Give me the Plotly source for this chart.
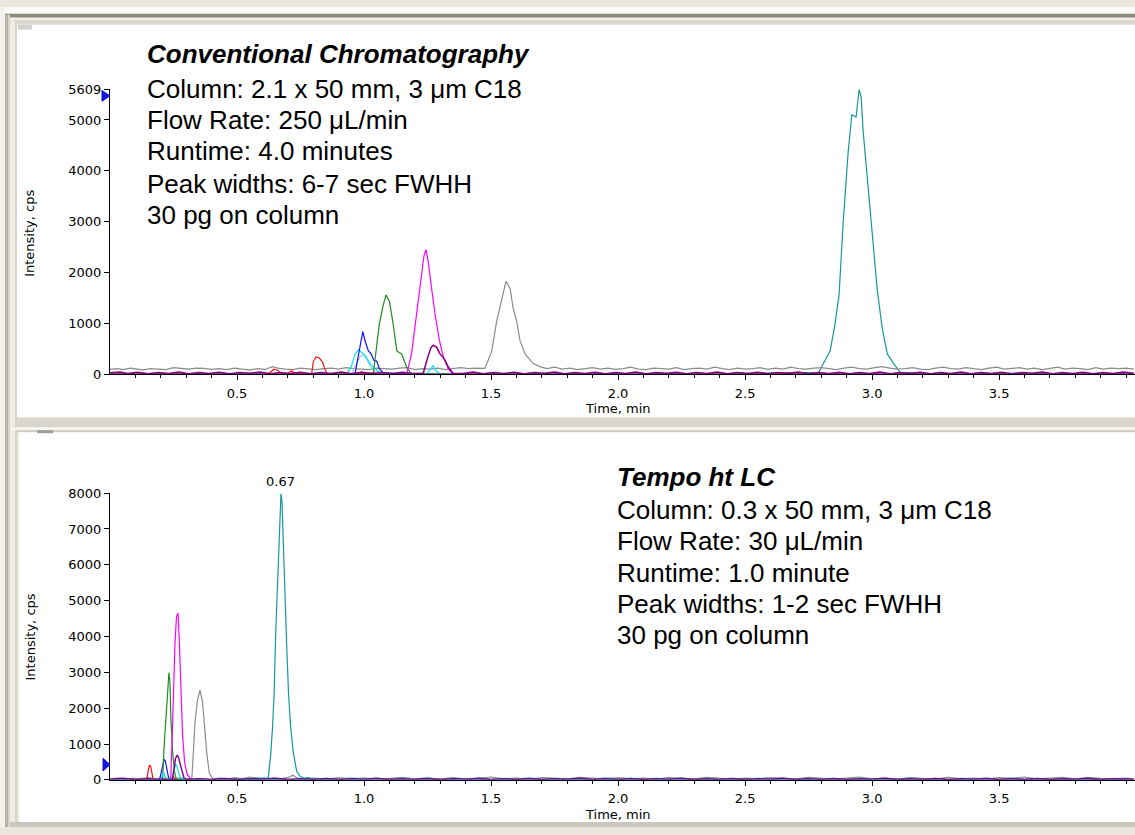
import plotly.graph_objects as go

# ---------------- DATA (time in min, intensity in cps) ----------------
# Top panel: conventional chromatography
top_gray = [(0.00,95),(0.03,110),(0.05,90),(0.08,120),(0.10,105),(0.13,85),(0.16,110),(0.19,100),(0.22,90),(0.25,130),
            (0.28,115),(0.31,100),(0.34,120),(0.37,115),(0.40,95),(0.43,110),(0.46,90),(0.49,120),(0.52,100),(0.55,85),
            (0.58,110),(0.61,95),(0.64,150),(0.66,120),(0.69,100),(0.72,90),(0.75,120),(0.78,100),(0.81,90),(0.84,110),
            (0.87,120),(0.90,100),(0.93,130),(0.96,110),(0.99,100),(1.02,90),(1.05,120),(1.08,110),(1.11,100),(1.14,120),
            (1.17,130),(1.20,90),(1.23,110),(1.26,100),(1.29,120),(1.32,90),(1.35,110),(1.38,130),(1.41,110),(1.44,120),
            (1.476,115),(1.503,460),(1.522,1040),(1.542,1490),(1.559,1830),(1.575,1690),(1.587,1300),(1.601,1040),
            (1.614,660),(1.634,400),(1.666,210),(1.693,150),(1.72,110),(1.75,140),(1.78,100),(1.81,120),(1.84,90),
            (1.87,110),(1.90,130),(1.93,100),(1.96,120),(1.99,95),(2.02,110),(2.05,140),(2.08,100),(2.11,90),(2.14,120),
            (2.17,110),(2.20,100),(2.23,130),(2.26,90),(2.29,110),(2.32,120),(2.35,100),(2.38,140),(2.41,110),(2.44,90),
            (2.47,120),(2.50,100),(2.53,110),(2.56,130),(2.59,95),(2.62,120),(2.65,100),(2.68,140),(2.71,110),(2.74,100),
            (2.77,120),(2.80,130),(2.83,110),(2.86,90),(2.89,120),(2.92,140),(2.95,110),(2.98,100),(3.01,130),(3.04,150),
            (3.07,120),(3.10,100),(3.13,110),(3.16,130),(3.19,100),(3.22,90),(3.25,120),(3.28,140),(3.31,110),(3.34,100),
            (3.37,130),(3.40,110),(3.43,90),(3.46,120),(3.49,140),(3.52,100),(3.55,110),(3.58,130),(3.61,100),(3.64,120),
            (3.67,90),(3.70,110),(3.73,140),(3.76,100),(3.79,120),(3.82,110),(3.85,90),(3.88,130),(3.91,100),(3.94,120),
            (3.97,110),(4.00,120),(4.03,100)]
top_teal = [(0.0,10),(0.4,15),(0.8,10),(1.2,20),(1.6,10),(2.0,15),(2.4,10),(2.79,40),(2.835,460),(2.854,985),
            (2.87,1560),(2.886,2970),(2.906,4380),(2.92,5100),(2.937,5060),(2.949,5600),(2.957,5450),(2.965,4770),
            (2.98,3940),(2.998,2840),(3.02,1680),(3.04,900),(3.06,400),(3.085,210),(3.11,40),(3.2,20),(3.4,10),
            (3.6,20),(3.8,10),(4.03,15)]
top_lightblue = [(0.0,0),(0.5,5),(0.95,0),(0.97,200),(0.985,350),(0.998,380),(1.01,300),(1.025,150),(1.05,0),
                 (2.0,5),(3.0,0),(4.03,5)]
top_cyan = [(0.0,0),(0.3,10),(0.31,0),(0.932,0),(0.951,170),(0.965,400),(0.978,480),(0.991,430),(1.004,370),
            (1.024,210),(1.043,110),(1.07,0),(1.25,20),(1.265,120),(1.272,170),(1.28,90),(1.30,0),(2.0,10),
            (3.0,0),(4.03,5)]
top_blue = [(0.0,0),(0.5,5),(0.9,0),(0.965,20),(0.978,400),(0.988,690),(0.995,840),(1.004,660),(1.017,460),
            (1.028,400),(1.039,270),(1.05,260),(1.06,110),(1.075,30),(1.2,0),(2.0,5),(3.0,0),(4.03,5)]
top_green = [(0.0,5),(0.3,10),(0.6,0),(0.9,5),(1.037,30),(1.047,460),(1.06,980),(1.076,1370),(1.087,1560),
             (1.10,1430),(1.115,980),(1.129,460),(1.148,400),(1.168,140),(1.187,0),(1.5,5),(2.0,0),(2.5,10),
             (3.0,0),(3.5,5),(4.03,0)]
top_magenta = [(0.0,0),(0.6,0),(1.168,0),(1.187,400),(1.207,1170),(1.223,1810),(1.236,2330),(1.244,2450),
               (1.253,2200),(1.266,1690),(1.28,1170),(1.297,660),(1.312,340),(1.332,110),(1.35,0),(4.03,0)]
top_red = [(0.0,0),(0.6,0),(0.63,30),(0.645,100),(0.66,80),(0.675,0),(0.70,20),(0.715,70),(0.73,0),(0.794,20),
           (0.80,240),(0.811,340),(0.824,320),(0.837,240),(0.843,140),(0.853,20),(0.87,0),(0.98,0),(0.99,50),
           (1.0,0),(4.03,0)]
top_purple = [(0.00,30),(0.04,45),(0.07,15),(0.11,40),(0.15,10),(0.19,35),(0.23,15),(0.27,45),(0.31,10),(0.35,35),
              (0.39,15),(0.43,40),(0.47,10),(0.51,35),(0.55,20),(0.59,45),(0.63,10),(0.67,35),(0.71,15),(0.75,40),
              (0.79,10),(0.83,35),(0.87,15),(0.91,45),(0.95,10),(0.99,40),(1.03,15),(1.07,35),(1.11,10),(1.15,40),
              (1.19,15),(1.233,20),(1.253,370),(1.264,530),(1.273,570),(1.286,530),(1.299,400),(1.315,310),
              (1.332,140),(1.35,20),(1.39,15),(1.43,45),(1.47,10),(1.51,35),(1.55,15),(1.59,40),(1.63,10),(1.67,35),
              (1.71,20),(1.75,45),(1.79,10),(1.83,35),(1.87,15),(1.91,40),(1.95,10),(1.99,35),(2.03,15),(2.07,45),
              (2.11,10),(2.15,35),(2.19,20),(2.23,40),(2.27,10),(2.31,35),(2.35,15),(2.39,45),(2.43,10),(2.47,35),
              (2.51,15),(2.55,40),(2.59,10),(2.63,35),(2.67,20),(2.71,45),(2.75,10),(2.79,35),(2.83,15),(2.87,40),
              (2.91,10),(2.95,35),(2.99,15),(3.03,45),(3.07,10),(3.11,35),(3.15,20),(3.19,40),(3.23,10),(3.27,35),
              (3.31,15),(3.35,45),(3.39,10),(3.43,35),(3.47,15),(3.51,40),(3.55,10),(3.59,35),(3.63,20),(3.67,45),
              (3.71,10),(3.75,35),(3.79,15),(3.83,40),(3.87,10),(3.91,35),(3.95,15),(3.99,45),(4.03,20)]

# Bottom panel: Tempo ht LC
bot_gray = [(0.00,30),(0.03,50),(0.06,20),(0.09,45),(0.12,30),(0.15,60),(0.18,25),(0.21,50),(0.24,30),(0.27,45),
            (0.30,30),(0.322,30),(0.328,740),(0.335,1650),(0.344,2200),(0.354,2500),(0.364,2200),(0.371,1480),
            (0.381,740),(0.391,190),(0.404,30),(0.43,50),(0.46,20),(0.49,60),(0.52,30),(0.55,80),(0.58,40),
            (0.61,20),(0.64,50),(0.67,30),(0.70,60),(0.72,130),(0.74,40),(0.77,30),(0.80,50),(0.85,20),(0.90,60),
            (0.95,30),(1.00,50),(1.05,20),(1.10,40),(1.15,70),(1.20,30),(1.25,50),(1.30,20),(1.35,60),(1.40,30),
            (1.45,40),(1.50,80),(1.55,30),(1.60,50),(1.65,20),(1.70,60),(1.75,40),(1.80,30),(1.85,70),(1.90,40),
            (1.95,30),(2.00,60),(2.05,30),(2.10,50),(2.15,20),(2.20,60),(2.25,40),(2.30,30),(2.35,70),(2.40,40),
            (2.45,20),(2.50,50),(2.55,30),(2.60,60),(2.65,40),(2.70,30),(2.75,70),(2.80,40),(2.85,20),(2.90,50),
            (2.95,80),(3.00,30),(3.05,50),(3.10,20),(3.15,60),(3.20,40),(3.25,30),(3.30,70),(3.35,30),(3.40,50),
            (3.45,20),(3.50,60),(3.55,40),(3.60,80),(3.65,30),(3.70,50),(3.75,70),(3.80,30),(3.85,60),(3.90,40),
            (3.95,30),(4.00,50),(4.03,30)]
bot_lightblue = [(0.00,20),(0.04,40),(0.08,10),(0.12,50),(0.16,20),(0.20,40),(0.24,10),(0.28,60),(0.32,20),
                 (0.36,40),(0.40,10),(0.44,50),(0.48,20),(0.52,40),(0.56,10),(0.60,60),(0.64,20),(0.68,40),
                 (0.72,10),(0.76,50),(0.80,20),(0.85,40),(0.90,10),(0.95,60),(1.00,20),(1.05,40),(1.10,10),
                 (1.15,50),(1.20,20),(1.25,70),(1.30,10),(1.35,40),(1.40,20),(1.45,50),(1.50,10),(1.55,40),
                 (1.60,20),(1.65,60),(1.70,10),(1.75,40),(1.80,20),(1.85,50),(1.90,10),(1.95,70),(2.00,20),
                 (2.05,40),(2.10,10),(2.15,50),(2.20,20),(2.25,40),(2.30,10),(2.35,60),(2.40,20),(2.45,40),
                 (2.50,10),(2.55,50),(2.60,20),(2.65,40),(2.70,10),(2.75,60),(2.80,20),(2.85,40),(2.90,10),
                 (2.95,50),(3.00,20),(3.05,40),(3.10,10),(3.15,60),(3.20,20),(3.25,40),(3.30,10),(3.35,50),
                 (3.40,20),(3.45,40),(3.50,10),(3.55,60),(3.60,20),(3.65,40),(3.70,10),(3.75,50),(3.80,20),
                 (3.85,60),(3.90,10),(3.95,40),(4.03,20)]
bot_teal = [(0.0,10),(0.2,15),(0.4,10),(0.623,50),(0.633,740),(0.640,1480),(0.646,2380),(0.652,4030),(0.659,5310),
            (0.664,6680),(0.669,7590),(0.673,7980),(0.677,7770),(0.682,6580),(0.689,5120),(0.696,3660),
            (0.703,2380),(0.711,1480),(0.722,740),(0.735,240),(0.748,100),(0.764,40),(0.78,60),(0.80,20),
            (1.0,10),(1.5,15),(2.0,10),(2.5,20),(3.0,10),(3.5,15),(4.03,10)]
bot_red = [(0.0,0),(0.145,0),(0.150,250),(0.155,400),(0.160,380),(0.165,150),(0.170,0),(0.24,0),(0.25,90),
           (0.26,0),(1.0,10),(2.0,0),(3.0,10),(4.03,0)]
bot_blue = [(0.0,0),(0.195,0),(0.203,250),(0.208,480),(0.213,575),(0.218,520),(0.224,300),(0.230,80),(0.236,0),
            (1.0,5),(2.0,0),(3.0,5),(4.03,0)]
bot_green = [(0.0,0),(0.207,0),(0.213,930),(0.220,1830),(0.227,2570),(0.232,2990),(0.236,2750),(0.240,1650),
             (0.247,740),(0.255,190),(0.262,0),(1.0,5),(2.0,0),(3.0,5),(4.03,0)]
bot_cyan = [(0.0,0),(0.200,0),(0.207,150),(0.212,200),(0.218,60),(0.245,0),(0.252,250),(0.258,440),(0.264,380),
            (0.270,200),(0.278,60),(0.290,0),(1.0,10),(2.0,0),(3.0,10),(4.03,0)]
bot_magenta = [(0.0,0),(0.239,0),(0.244,1010),(0.249,2570),(0.256,3840),(0.262,4570),(0.268,4650),(0.273,3840),
               (0.278,2570),(0.286,1200),(0.294,470),(0.304,150),(0.321,0),(4.03,0)]
bot_purple = [(0.00,20),(0.05,45),(0.10,10),(0.15,35),(0.20,15),(0.245,10),(0.252,300),(0.258,600),(0.264,690),
              (0.270,620),(0.276,450),(0.284,200),(0.292,40),(0.300,10),(0.35,35),(0.40,15),(0.45,40),(0.50,10),
              (0.55,35),(0.60,20),(0.65,45),(0.70,10),(0.75,35),(0.80,15),(0.85,40),(0.90,10),(0.95,35),(1.00,20),
              (1.05,45),(1.10,10),(1.15,35),(1.20,15),(1.25,40),(1.30,10),(1.35,35),(1.40,20),(1.45,45),(1.50,10),
              (1.55,35),(1.60,15),(1.65,40),(1.70,10),(1.75,35),(1.80,20),(1.85,45),(1.90,10),(1.95,35),(2.00,15),
              (2.05,40),(2.10,10),(2.15,35),(2.20,20),(2.25,45),(2.30,10),(2.35,35),(2.40,15),(2.45,40),(2.50,10),
              (2.55,35),(2.60,20),(2.65,45),(2.70,10),(2.75,35),(2.80,15),(2.85,40),(2.90,10),(2.95,35),(3.00,20),
              (3.05,45),(3.10,10),(3.15,35),(3.20,15),(3.25,40),(3.30,10),(3.35,35),(3.40,20),(3.45,45),(3.50,10),
              (3.55,35),(3.60,15),(3.65,40),(3.70,10),(3.75,35),(3.80,20),(3.85,45),(3.90,10),(3.95,35),(4.03,20)]

x_tick_vals = [0.5, 1.0, 1.5, 2.0, 2.5, 3.0, 3.5]
x_tick_text = ["0.5", "1.0", "1.5", "2.0", "2.5", "3.0", "3.5"]
x_minor_vals = [i / 10 for i in range(1, 41)]
top_y_ticks = [0, 1000, 2000, 3000, 4000, 5000, 5609]
bot_y_ticks = [0, 1000, 2000, 3000, 4000, 5000, 6000, 7000, 8000]
top_ymax = 5609
bot_ymax = 8000
apex_label = (0.673, 7980, "0.67")

top_text = ["<b><i>Conventional Chromatography</i></b>", "Column: 2.1 x 50 mm, 3 μm C18",
            "Flow Rate: 250 μL/min", "Runtime: 4.0 minutes", "Peak widths: 6-7 sec FWHH", "30 pg on column"]
bot_text = ["<b><i>Tempo ht LC</i></b>", "Column: 0.3 x 50 mm, 3 μm C18", "Flow Rate: 30 μL/min",
            "Runtime: 1.0 minute", "Peak widths: 1-2 sec FWHH", "30 pg on column"]

# ---------------- FIGURE ----------------
W, H = 1135, 835
def px(x): return x / W
def py(y): return 1 - y / H

GRAY = "#8c8c8c"; TEAL = "#16979a"; LBLUE = "#a8c4ee"; CYAN = "#00e4f0"; BLUE = "#1010ff"
GREEN = "#1e8c1e"; MAGENTA = "#ff00ff"; RED = "#ff1010"; PURPLE = "#800080"

fig = go.Figure()
def add(series, color, ax, width=1.2):
    t = [p[0] for p in series]; v = [p[1] for p in series]
    fig.add_trace(go.Scatter(x=t, y=v, mode="lines", line=dict(color=color, width=width),
                             xaxis="x" if ax == 1 else "x2", yaxis="y" if ax == 1 else "y2",
                             hoverinfo="skip", showlegend=False))

for s, c in [(top_teal, TEAL), (top_gray, GRAY), (top_lightblue, LBLUE), (top_cyan, CYAN), (top_blue, BLUE),
             (top_green, GREEN), (top_magenta, MAGENTA), (top_red, RED)]:
    add(s, c, 1)
add(top_purple, PURPLE, 1, 1.5)
for s, c in [(bot_lightblue, LBLUE), (bot_gray, GRAY), (bot_teal, TEAL), (bot_red, RED), (bot_blue, BLUE),
             (bot_green, GREEN), (bot_magenta, MAGENTA), (bot_cyan, CYAN)]:
    add(s, c, 2)
add(bot_purple, PURPLE, 2, 1.4)

tickfont = dict(family="DejaVu Sans", size=13, color="#000")
def xaxis_def(anchor):
    return dict(domain=[px(110), 1], range=[0, 4.035], anchor=anchor, showline=True, linecolor="#000",
                linewidth=1, showgrid=False, zeroline=False, tickmode="array", tickvals=x_tick_vals,
                ticktext=x_tick_text, ticks="outside", ticklen=5, tickcolor="#000", tickfont=tickfont,
                ticklabelstandoff=2,
                minor=dict(tickmode="array", tickvals=x_minor_vals, ticks="outside", ticklen=3, tickcolor="#000"))
def yaxis_def(anchor, dom, rng, tv):
    return dict(domain=dom, range=rng, anchor=anchor, showline=True, linecolor="#000", linewidth=1,
                showgrid=False, zeroline=False, tickmode="array", tickvals=tv, ticktext=[str(v) for v in tv],
                ticks="outside", ticklen=5, tickcolor="#000", tickfont=tickfont)

shapes = []
def rect(x0, y0, x1, y1, color, layer="below"):
    shapes.append(dict(type="rect", xref="paper", yref="paper", x0=px(x0), x1=px(x1), y0=py(y1), y1=py(y0),
                       fillcolor=color, line=dict(width=0), layer=layer))
rect(0, 0, W, 7, "#fafaf7")
rect(0, 7, W, 11, "#8e8c7e")
rect(0, 11, W, 13, "#f7f6f1")
rect(0, 13, W, 18, "#dcdacf")
rect(0, 0, 5, H, "#f2f1ec")
rect(5, 8, 8, H, "#b5b3a5")
rect(8, 8, 10, H, "#d8d6cb")
rect(10, 11, 15, H, "#eeede5")
rect(15, 13, 17, H, "#d6d4c9")
rect(17, 18, W, 418, "#ffffff")
rect(17, 418, W, 428, "#d9d7cd")
rect(10, 428, W, 431, "#f6f5f0")
rect(17, 431, W, 433, "#cdcbc1")
rect(19, 433, W, 830, "#ffffff")
rect(10, 830, W, H, "#cac8be")
rect(18, 18, 32, 23, "#d2d2d2")
rect(37, 431, 53, 434, "#9c9c9c")

def tri(xl, yt, xr, yb):
    ym = (yt + yb) / 2
    return (f"M {px(xl)},{py(yt)} L {px(xr)},{py(ym)} L {px(xl)},{py(yb)} Z")
for path in [tri(102, 85, 110, 96), tri(103, 765, 110, 778)]:
    shapes.append(dict(type="path", xref="paper", yref="paper", path=path, fillcolor="#1515dd",
                       line=dict(color="#1515dd", width=1), layer="above"))

ann = []
txtfont = dict(family="Arial, Liberation Sans, sans-serif", size=26, color="#000")
for txt, yy in zip(top_text, [48, 84, 115, 147, 180, 212]):
    ann.append(dict(text=txt, x=px(145), y=py(yy), xref="paper", yref="paper", xanchor="left",
                    yanchor="middle", showarrow=False, font=txtfont))
for txt, yy in zip(bot_text, [479, 512, 544, 576, 608, 639]):
    ann.append(dict(text=txt, x=px(615), y=py(yy), xref="paper", yref="paper", xanchor="left",
                    yanchor="middle", showarrow=False, font=txtfont))
labfont = dict(family="DejaVu Sans", size=13, color="#000")
for yy in [231, 642]:
    ann.append(dict(text="Intensity, cps", x=px(30), y=py(yy), xref="paper", yref="paper", textangle=-90,
                    xanchor="center", yanchor="middle", showarrow=False, font=labfont))
for yy in [409, 822]:
    ann.append(dict(text="Time, min", x=px(618), y=py(yy), xref="paper", yref="paper",
                    xanchor="center", yanchor="middle", showarrow=False, font=labfont))
ann.append(dict(text=apex_label[2], x=apex_label[0], y=apex_label[1], xref="x2", yref="y2", yanchor="bottom",
                xanchor="center", yshift=3, showarrow=False, font=labfont))

fig.update_layout(
    width=W, height=H, autosize=False, margin=dict(l=0, r=0, t=0, b=0),
    paper_bgcolor="#e9e7de", plot_bgcolor="rgba(0,0,0,0)", showlegend=False, hovermode=False,
    xaxis=xaxis_def("y"), yaxis=yaxis_def("x", [py(374), py(83.5)], [0, top_ymax], top_y_ticks),
    xaxis2=xaxis_def("y2"), yaxis2=yaxis_def("x2", [py(787), py(495)], [0, bot_ymax], bot_y_ticks),
    shapes=shapes, annotations=ann,
)
fig.write_html("out.html", config={"displayModeBar": False},
               post_script="document.body.style.margin='0';document.body.style.overflow='hidden';")
